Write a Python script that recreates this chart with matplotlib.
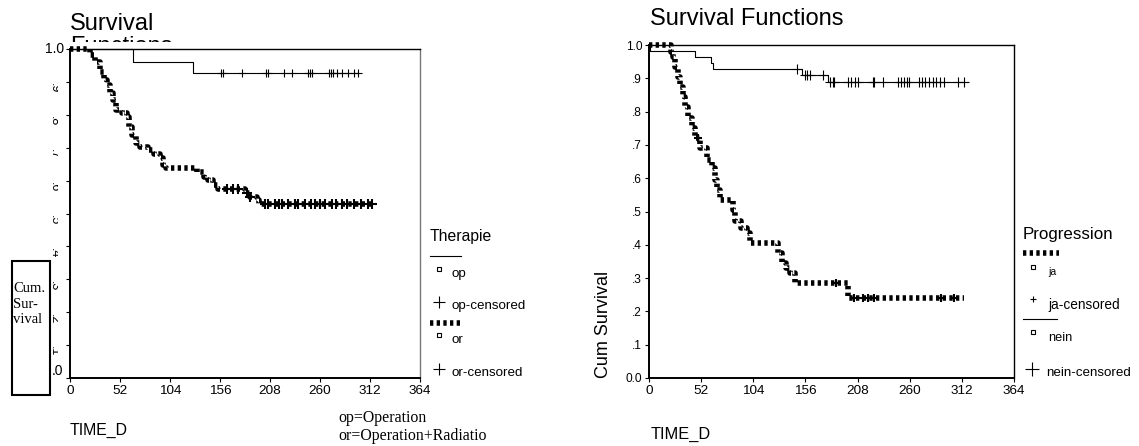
import numpy as np
import matplotlib
matplotlib.use('Agg')
from matplotlib import pyplot as plt
from matplotlib.patches import Rectangle
from matplotlib.transforms import Bbox

plt.rcParams['font.family'] = ['Liberation Sans', 'DejaVu Sans']

W, H = 1139, 446

# ---- left chart: Therapie (op / or) ----
op_times = [0, 65, 128, 299]
op_surv = [1.0, 0.961, 0.927, 0.927]
op_cens = [157, 159, 179, 204, 206, 223, 231, 248, 250, 252, 269, 271, 274,
           278, 283, 289, 295, 299]

or_times = [0, 21, 26, 31, 35, 38, 42, 45, 48, 54, 59, 61, 64, 69, 73, 81,
            87, 94, 97, 100, 132, 139, 144, 149, 154, 182, 187, 194, 197, 315]
or_surv = [1.0, 0.982, 0.961, 0.931, 0.906, 0.891, 0.865, 0.845, 0.815, 0.805,
           0.794, 0.764, 0.739, 0.713, 0.703, 0.693, 0.681, 0.668, 0.647,
           0.637, 0.627, 0.612, 0.602, 0.587, 0.574, 0.561, 0.551, 0.541,
           0.53, 0.53]
or_cens = [163, 170, 175, 184, 187, 203, 206, 213, 217, 220, 227, 234, 237,
           244, 251, 255, 260, 265, 272, 277, 283, 288, 295, 303, 310, 314]

# ---- right chart: Progression (ja / nein) ----
ja_times = [0, 22, 24, 26, 29, 31, 34, 36, 39, 43, 46, 51, 58, 63, 66, 68,
            71, 84, 86, 92, 98, 101, 129, 133, 137, 141, 146, 198, 314]
ja_surv = [1.0, 0.98, 0.965, 0.935, 0.905, 0.875, 0.845, 0.815, 0.78, 0.75,
           0.72, 0.69, 0.655, 0.63, 0.595, 0.565, 0.535, 0.505, 0.47, 0.45,
           0.435, 0.405, 0.375, 0.345, 0.33, 0.315, 0.285, 0.24, 0.24]
ja_cens = [49, 186, 204, 213, 218, 224, 291, 304]

nein_times = [0, 1, 46, 62, 64, 153, 179, 314]
nein_surv = [1.0, 0.982, 0.964, 0.946, 0.928, 0.909, 0.89, 0.89]
nein_cens = [148, 156, 158, 161, 174, 181, 183, 184, 198, 201, 205, 208, 223,
             224, 233, 248, 251, 254, 257, 259, 269, 272, 275, 279, 283, 286,
             290, 294, 308, 314]

xticks = [0, 52, 104, 156, 208, 260, 312, 364]
yticks = [0.0, 0.1, 0.2, 0.3, 0.4, 0.5, 0.6, 0.7, 0.8, 0.9, 1.0]
right_ylabels = ['0.0', '.1', '.2', '.3', '.4', '.5', '.6', '.7', '.8', '.9', '1.0']
left_ylabels = ['.0', '.1', '.2', '.3', '.4', '.5', '.6', '.7', '.8', '.9', '1.0']

THICK = dict(color='k', lw=4.0, ls=(0, (0.6, 0.6)), dash_capstyle='butt')
THIN = dict(color='k', lw=0.8)


def surv_at(t, times, surv):
    idx = np.searchsorted(times, t, side='right') - 1
    return np.asarray(surv)[idx]


fig = plt.figure(figsize=(W / 100, H / 100), dpi=100)
axL = fig.add_axes([70 / W, 1 - 378 / H, 350 / W, 329 / H])
axR = fig.add_axes([649 / W, 1 - 378 / H, 365 / W, 333 / H])

for ax in (axL, axR):
    ax.set_xlim(0, 364)
    ax.set_ylim(0, 1)
    ax.set_xticks(xticks)
    ax.set_xticklabels([str(v) for v in xticks], fontsize=9.7)
    ax.set_yticks(yticks)
    ax.tick_params(direction='out', length=3, width=0.8, pad=2)
    ax.spines['left'].set_linewidth(1.4)
    ax.spines['bottom'].set_linewidth(1.4)
    ax.spines['top'].set_linewidth(1.0)
    ax.spines['right'].set_linewidth(1.0)

axL.spines['right'].set_color('#777777')

# left curves
axL.step(op_times, op_surv, where='post', clip_on=False, **THIN)
axL.plot(op_cens, surv_at(op_cens, op_times, op_surv), ls='none', marker='+',
         ms=6, mew=0.8, color='k', clip_on=False)
axL.step(or_times, or_surv, where='post', clip_on=False, **THICK)
axL.plot(or_cens, surv_at(or_cens, or_times, or_surv), ls='none', marker='+',
         ms=7, mew=1.5, color='k', clip_on=False)

# right curves
axR.step(nein_times, nein_surv, where='post', clip_on=False, **THIN)
axR.plot(nein_cens, surv_at(nein_cens, nein_times, nein_surv), ls='none',
         marker='+', ms=7, mew=0.8, color='k', clip_on=False)
axR.step(ja_times, ja_surv, where='post', clip_on=False, **THICK)
axR.plot(ja_cens, surv_at(ja_cens, ja_times, ja_surv), ls='none', marker='+',
         ms=6, mew=1.5, color='k', clip_on=False)

axR.set_yticklabels(right_ylabels, fontsize=8.6)

# left y labels: only ends readable, middle ones are cut fragments
axL.set_yticklabels([''] * len(yticks))
axL.text(-0.018, 1.0, left_ylabels[-1], transform=axL.get_yaxis_transform(),
         ha='right', va='center', fontsize=10)
axL.text(-0.018, 0.02, left_ylabels[0], transform=axL.get_yaxis_transform(),
         ha='right', va='center', fontsize=10)
clip_strip = Bbox.from_extents(51.5, 0, 57.5, H)
for v, lab in zip(yticks[1:-1], left_ylabels[1:-1]):
    t = axL.text(-0.045, v - 0.02, lab, transform=axL.get_yaxis_transform(),
                 ha='center', va='center', fontsize=9, rotation=-90,
                 clip_on=True)
    t.set_clip_path(None)
    t.set_clip_box(clip_strip)

# ---- overlay in pixel coordinates for titles, notes and legends ----
ov = fig.add_axes([0, 0, 1, 1], zorder=-1)
ov.set_xlim(0, W)
ov.set_ylim(H, 0)
ov.axis('off')

ov.text(70, 30, 'Survival', fontsize=17, va='baseline', ha='left')
tf = ov.text(70, 36, 'Functions', fontsize=17, va='top', ha='left', clip_on=True)
tf.set_clip_path(None)
tf.set_clip_box(Bbox.from_extents(60, H - 42, 250, H - 30))
ov.text(650, 25, 'Survival Functions', fontsize=17, va='baseline', ha='left')

ov.text(70, 435, 'TIME_D', fontsize=11.4, va='baseline', ha='left')
ov.text(651, 439, 'TIME_D', fontsize=11.8, va='baseline', ha='left')

ov.text(603, 378, 'Cum Survival', fontsize=13, rotation=90, ha='center',
        va='bottom')

ov.add_patch(Rectangle((12, 261), 38, 134, fill=False, lw=1.5, ec='k'))
ov.text(13, 282, 'Cum.\nSur-\nvival', family='Liberation Serif', fontsize=10.5,
        va='top', ha='left', linespacing=1.25)

ov.text(338, 422, 'op=Operation', family='Liberation Serif', fontsize=11.4,
        va='baseline', ha='left')
ov.text(338, 440, 'or=Operation+Radiatio', family='Liberation Serif',
        fontsize=11.4, va='baseline', ha='left')

# legend: Therapie
ov.text(430, 241, 'Therapie', fontsize=11.3, va='baseline', ha='left')
ov.plot([430, 461], [256, 256], **THIN)
ov.plot([439], [269], marker='s', ms=3, mfc='white', mec='k', mew=0.8)
ov.text(452, 277, 'op', fontsize=9.6, va='baseline', ha='left')
ov.plot([439], [302], marker='+', ms=9, mew=0.8, color='k')
ov.text(452, 309, 'op-censored', fontsize=9.6, va='baseline', ha='left')
ov.plot([430, 463], [323, 323], **THICK)
ov.plot([439], [335], marker='s', ms=3, mfc='white', mec='k', mew=0.8)
ov.text(452, 343, 'or', fontsize=9.6, va='baseline', ha='left')
ov.plot([439], [369], marker='+', ms=9, mew=0.8, color='k')
ov.text(452, 376, 'or-censored', fontsize=9.6, va='baseline', ha='left')

# legend: Progression
ov.text(1023, 239, 'Progression', fontsize=12.2, va='baseline', ha='left')
ov.plot([1023, 1059], [253, 253], **THICK)
ov.plot([1033], [267], marker='s', ms=3, mfc='white', mec='k', mew=0.8)
ov.text(1048, 275, 'ja', fontsize=7.5, va='baseline', ha='left')
ov.plot([1033], [299], marker='+', ms=5, mew=0.8, color='k')
ov.text(1048, 309, 'ja-censored', fontsize=9.8, va='baseline', ha='left')
ov.plot([1023, 1057], [319, 319], **THIN)
ov.plot([1033], [332], marker='s', ms=3, mfc='white', mec='k', mew=0.8)
ov.text(1048, 341, 'nein', fontsize=9.2, va='baseline', ha='left')
ov.plot([1032], [369], marker='+', ms=10, mew=0.8, color='k')
ov.text(1046, 376, 'nein-censored', fontsize=9.6, va='baseline', ha='left')

fig.savefig('out.png', dpi=100)
